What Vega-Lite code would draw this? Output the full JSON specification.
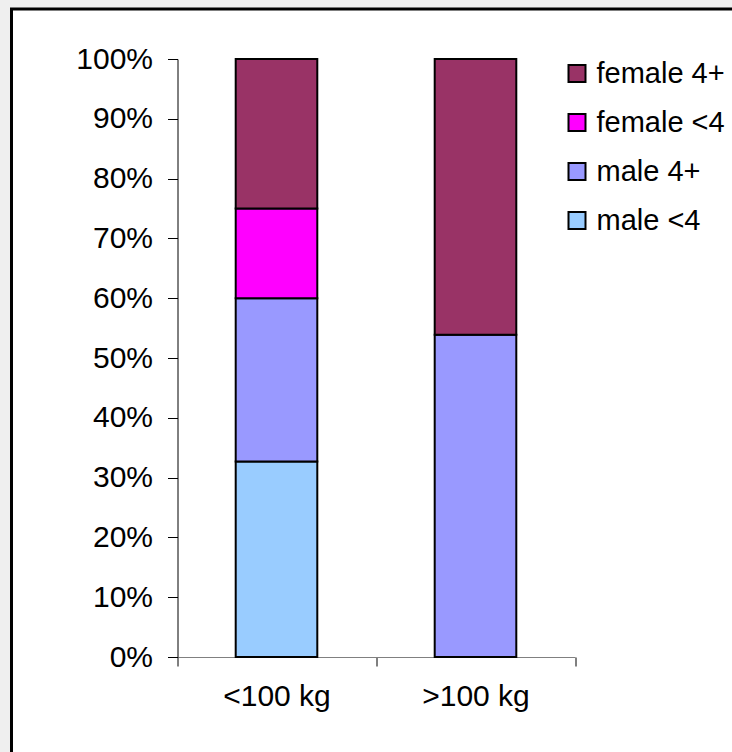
{
  "$schema": "https://vega.github.io/schema/vega-lite/v6.json",
  "width": 760,
  "height": 780,
  "autosize": {"type": "none"},
  "padding": {"left": 11.5, "top": 9, "right": -39.5, "bottom": -37},
  "background": "#efefef",
  "config": {
    "view": {"stroke": "#000000", "strokeWidth": 3, "fill": "#ffffff"},
    "font": "Liberation Sans"
  },
  "data": {
    "values": [
      {"weight": "<100 kg", "group": "male <4", "pct": 32.7},
      {"weight": "<100 kg", "group": "male 4+", "pct": 27.3},
      {"weight": "<100 kg", "group": "female <4", "pct": 15.0},
      {"weight": "<100 kg", "group": "female 4+", "pct": 25.0},
      {"weight": ">100 kg", "group": "male 4+", "pct": 53.9},
      {"weight": ">100 kg", "group": "female 4+", "pct": 46.1}
    ]
  },
  "mark": {"type": "bar", "stroke": "#000000", "strokeWidth": 2, "width": {"band": 0.41}},
  "encoding": {
    "x": {
      "field": "weight",
      "type": "nominal",
      "sort": ["<100 kg", ">100 kg"],
      "scale": {"range": [165.5, 563.5], "paddingInner": 0, "paddingOuter": 0},
      "axis": {
        "title": null,
        "labelAngle": 0,
        "offset": -132,
        "domainColor": "#808080",
        "tickColor": "#000000",
        "tickSize": 9,
        "tickBand": "extent",
        "labelFontSize": 30,
        "labelColor": "#000000",
        "labelPadding": 15
      }
    },
    "y": {
      "field": "pct",
      "type": "quantitative",
      "stack": "normalize",
      "scale": {"domain": [0, 1], "range": [648, 50], "nice": false},
      "axis": {
        "title": null,
        "format": ".0%",
        "values": [0, 0.1, 0.2, 0.3, 0.4, 0.5, 0.6, 0.7, 0.8, 0.9, 1],
        "offset": -166,
        "grid": false,
        "domainColor": "#000000",
        "tickColor": "#000000",
        "tickSize": 10,
        "labelFontSize": 30,
        "labelColor": "#000000",
        "labelPadding": 15
      }
    },
    "color": {
      "field": "group",
      "type": "nominal",
      "scale": {
        "domain": ["female 4+", "female <4", "male 4+", "male <4"],
        "range": ["#993366", "#ff00ff", "#9999ff", "#99ccff"]
      },
      "legend": {
        "title": null,
        "orient": "none",
        "legendX": 551,
        "legendY": 50,
        "padding": 0,
        "symbolType": "square",
        "symbolSize": 289,
        "symbolStrokeColor": "#000000",
        "symbolStrokeWidth": 2,
        "labelFontSize": 29,
        "labelColor": "#000000",
        "labelOffset": 5,
        "rowPadding": 19
      }
    },
    "order": {"field": "group", "sort": "descending"}
  }
}
